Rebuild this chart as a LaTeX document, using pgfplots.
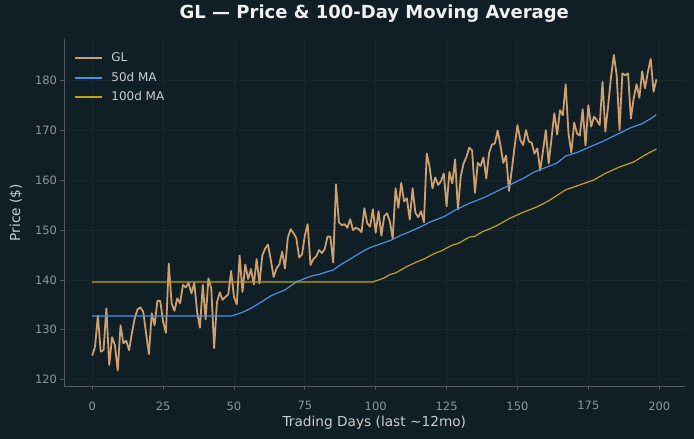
\documentclass[border=0pt]{standalone}
\usepackage{pgfplots}
\pgfplotsset{compat=1.18}
\usepackage{pgfplotstable}
\usepackage{fontspec}
\setmainfont{DejaVu Sans}
\definecolor{bg}{RGB}{16,31,38}
\definecolor{pricec}{RGB}{206,159,111}
\definecolor{ma50}{RGB}{74,144,226}
\definecolor{ma100}{RGB}{196,160,24}
\definecolor{tickc}{RGB}{140,150,156}
\definecolor{labc}{RGB}{200,205,208}
\definecolor{spinec}{RGB}{80,90,95}
\definecolor{gridc}{RGB}{26,41,48}

\pgfplotstableread{
d p
0 124.8
1 126.6
2 132.8
3 125.6
4 125.9
5 134.3
6 122.9
7 128.5
8 126.9
9 121.8
10 130.9
11 127.3
12 127.8
13 125.9
14 129.3
15 132.3
16 134.1
17 134.5
18 133.6
19 129.3
20 125.1
21 133.3
22 130.9
23 135.8
24 135.8
25 131.6
26 129.4
27 143.3
28 135.3
29 133.8
30 136.3
31 135.3
32 139.0
33 138.5
34 139.4
35 137.3
36 139.4
37 133.6
38 130.4
39 139.0
40 132.1
41 140.3
42 138.3
43 126.3
44 135.5
45 137.5
46 136.0
47 136.6
48 137.1
49 141.8
50 136.6
51 135.1
52 144.9
53 137.6
54 143.1
55 140.2
56 142.2
57 139.1
58 144.2
59 139.3
60 144.9
61 146.3
62 147.1
63 144.0
64 140.6
65 142.3
66 143.1
67 145.7
68 142.3
69 148.5
70 150.2
71 149.4
72 148.4
73 144.5
74 145.1
75 148.9
76 151.2
77 143.0
78 144.2
79 144.7
80 146.0
81 145.4
82 146.2
83 148.7
84 148.7
85 143.5
86 159.2
87 151.6
88 151.0
89 151.2
90 150.5
91 152.2
92 150.0
93 150.5
94 150.2
95 149.6
96 154.4
97 151.4
98 150.7
99 154.2
100 149.5
101 153.8
102 148.9
103 152.8
104 153.4
105 151.7
106 148.3
107 158.4
108 154.5
109 159.5
110 155.8
111 156.4
112 152.1
113 158.4
114 153.5
115 152.6
116 153.8
117 151.6
118 165.4
119 162.7
120 158.4
121 160.6
122 159.1
123 159.8
124 161.4
125 154.8
126 161.7
127 159.4
128 164.2
129 154.2
130 160.8
131 163.4
132 164.7
133 166.6
134 166.0
135 157.5
136 163.5
137 162.9
138 164.6
139 160.4
140 165.5
141 167.2
142 167.4
143 170.0
144 167.0
145 163.5
146 165.0
147 157.9
148 162.1
149 166.8
150 171.1
151 168.1
152 167.1
153 170.1
154 167.8
155 167.6
156 165.4
157 166.4
158 162.0
159 165.9
160 170.1
161 163.4
162 168.4
163 173.5
164 169.2
165 174.1
166 173.1
167 179.3
168 169.4
169 165.6
170 171.6
171 169.4
172 169.0
173 174.3
174 167.0
175 175.1
176 170.8
177 172.8
178 172.1
179 171.1
180 179.8
181 169.8
182 175.1
183 180.8
184 185.2
185 181.1
186 170.1
187 181.5
188 181.1
189 181.5
190 172.4
191 176.5
192 179.3
193 176.6
194 181.9
195 178.5
196 181.8
197 184.4
198 177.8
199 180.3
}\pricetable

\pgfplotstableread{
d m
0 132.75
49 132.75
51 133.1
53 133.5
56 134.3
58 135.0
60 135.7
63 136.8
65 137.3
68 138.0
70 138.8
72 139.6
75 140.3
78 140.9
80 141.1
82 141.5
85 142.0
88 143.2
91 144.2
95 145.6
98 146.5
102 147.3
105 147.9
109 149.0
112 149.7
116 150.7
119 151.6
124 152.7
128 154.0
133 155.4
138 156.5
142 157.6
147 159.0
152 160.4
156 161.7
160 162.6
164 163.5
167 164.9
171 165.6
175 166.6
180 167.8
185 169.2
190 170.6
194 171.4
197 172.4
199 173.2
}\mafifty

\pgfplotstableread{
d m
0 139.6
99 139.6
103 140.4
105 141.1
107 141.4
111 142.7
114 143.5
117 144.2
121 145.4
123 145.8
127 147.0
129 147.3
133 148.6
135 148.8
138 149.8
140 150.2
143 151.0
147 152.3
152 153.6
157 154.7
161 155.9
167 158.1
172 159.1
177 160.1
181 161.4
186 162.7
191 163.7
195 165.1
199 166.3
}\mahundred

\begin{document}
\begin{tikzpicture}
\fill[bg] (-64bp,-52.5bp) rectangle (630bp,386.5bp);
\path[use as bounding box] (-64bp,-52.5bp) rectangle (630bp,386.5bp);
\begin{axis}[
  at={(0,0)}, anchor=south west,
  scale only axis, width=620.6bp, height=347.5bp,
  xmin=-9.95, xmax=208.95, ymin=118.6, ymax=188.4,
  axis background/.style={fill=bg},
  axis lines=left,
  axis line style={spinec, line width=0.8bp, -},
  xtick={0,25,...,200}, ytick={120,130,...,180},
  tick align=outside, major tick length=3.5bp,
  tick style={spinec, line width=0.8bp},
  grid=major, major grid style={gridc, line width=0.8bp},
  /pgf/number format/assume math mode=true,
  ticklabel style={font=\fontsize{11.5bp}{13bp}\selectfont, text=tickc},
  xticklabel style={yshift=-8bp},
  title={GL — Price \& 100-Day Moving Average},
  title style={font=\fontsize{18bp}{20bp}\selectfont\bfseries, text=white!94!black, at={(axis description cs:0.5,1)}, anchor=base, yshift=14.5bp},
  xlabel={Trading Days (last \textasciitilde12mo)},
  ylabel={Price (\$)},
  xlabel style={font=\fontsize{13.7bp}{15bp}\selectfont, text=labc, at={(axis description cs:0.5,-0.1045)}, anchor=center},
  ylabel style={font=\fontsize{13.7bp}{15bp}\selectfont, text=labc, at={(axis description cs:-0.0773,0.5)}, anchor=center, rotate=0},
  legend style={at={(axis description cs:0,1)}, anchor=north west, xshift=10bp, yshift=-13.6bp,
    draw=none, fill=none, inner sep=0pt, row sep=8.3bp, column sep=8bp,
    font=\fontsize{12bp}{14bp}\selectfont,
    nodes={inner sep=0pt, text height=8.8bp, text depth=2.4bp}, cells={anchor=west}},
  legend cell align=left,
]
\addplot[pricec, line width=1.8bp, line join=round, forget plot] table[x=d, y=p] {\pricetable};
\addplot[ma50, line width=1.2bp, forget plot] table[x=d, y=m] {\mafifty};
\addplot[ma100, line width=1.2bp, forget plot] table[x=d, y=m] {\mahundred};
\addlegendimage{legend image code/.code={\draw[draw=pricec, line width=2.2bp] (0bp,0bp) -- (27bp,0bp);}}
\addlegendentry{\textcolor{labc}{GL}}
\addlegendimage{legend image code/.code={\draw[draw=ma50, line width=1.4bp] (0bp,0bp) -- (27bp,0bp);}}
\addlegendentry{\textcolor{labc}{50d MA}}
\addlegendimage{legend image code/.code={\draw[draw=ma100, line width=1.6bp] (0bp,0.4bp) -- (27bp,0.4bp);}}
\addlegendentry{\textcolor{labc}{100d MA}}
\end{axis}
\end{tikzpicture}
\end{document}
